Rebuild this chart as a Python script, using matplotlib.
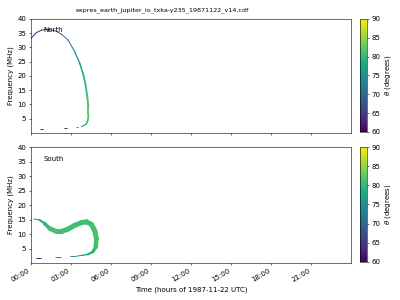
import numpy as np
import matplotlib
matplotlib.use('Agg')
import matplotlib.pyplot as plt
import matplotlib.dates as mdates
from matplotlib.collections import LineCollection
from datetime import datetime

# hours after 1987-11-22 00:00 UTC, frequency (MHz), beaming angle theta (deg)
north_t = [0.0, 0.4, 0.78, 1.27, 1.77, 2.28, 2.78, 3.28, 3.65, 3.9, 4.07, 4.22, 4.3, 4.3, 4.27, 4.15, 3.95, 3.78]
north_f = [33.2, 35.2, 36.1, 36.4, 35.9, 34.7, 32.6, 28.5, 24.5, 20.9, 17.4, 12.7, 9.2, 6.5, 4.6, 3.2, 2.6, 2.2]
north_theta = [61, 61, 62, 63, 65, 67, 70, 73, 76, 78, 80, 81, 82, 82, 81, 79, 77, 75]
north_lw = [1.3, 1.3, 1.3, 1.3, 1.3, 1.3, 1.4, 1.6, 2, 2.4, 2.6, 2.8, 2.8, 2.6, 2.4, 2, 1.6, 1.4]

south_t = [0.22, 0.65, 1.0, 1.4, 1.9, 2.28, 2.78, 3.28, 3.78, 4.15, 4.53, 4.78, 4.9, 4.85, 4.65, 4.27, 3.78, 3.45]
south_f = [15.2, 14.8, 13.7, 11.9, 10.9, 10.9, 11.7, 13.0, 13.9, 14.2, 13.3, 11.1, 8.3, 5.5, 3.9, 3.0, 2.6, 2.4]
south_theta = [76, 76, 79, 81, 81, 81, 81, 81, 81, 81, 81, 81, 81, 81, 80, 78, 76, 75]
south_lw = [1.4, 1.6, 4, 6.4, 7.2, 7.2, 7.2, 7.2, 7.2, 7.2, 7.2, 7.2, 7.2, 5.6, 4, 2.4, 1.6, 1.4]

# short isolated bursts near the bottom: (t start, t end, freq, theta)
north_bits = [(0.7, 0.9, 1.4, 62), (2.5, 2.7, 1.6, 63), (3.4, 3.55, 2.0, 74)]
south_bits = [(0.4, 0.73, 1.6, 61), (1.78, 2.23, 1.9, 72), (2.9, 3.35, 2.3, 74)]

day0 = mdates.date2num(datetime(1987, 11, 22))
cmap = plt.get_cmap('viridis')
norm = plt.Normalize(60, 90)


def draw_branch(ax, t, f, theta, lw, bits):
    x = day0 + np.array(t) / 24.0
    pts = np.column_stack([x, f]).reshape(-1, 1, 2)
    segs = np.concatenate([pts[:-1], pts[1:]], axis=1)
    th = np.array(theta, dtype=float)
    w = np.array(lw, dtype=float)
    lc = LineCollection(segs, cmap=cmap, norm=norm, linewidths=(w[:-1] + w[1:]) / 2,
                        capstyle='round')
    lc.set_array((th[:-1] + th[1:]) / 2)
    ax.add_collection(lc)
    for t0, t1, fb, tb in bits:
        ax.plot([day0 + t0 / 24.0, day0 + t1 / 24.0], [fb, fb], color=cmap(norm(tb)), lw=1.4,
                solid_capstyle='butt')
    return lc


fig = plt.figure(figsize=(8, 6), dpi=50)
ax1 = fig.add_axes([0.0775, 0.5567, 0.8, 0.38])
ax2 = fig.add_axes([0.0775, 0.1233, 0.8, 0.3867])
cax1 = fig.add_axes([0.9, 0.56, 0.0167, 0.3767])
cax2 = fig.add_axes([0.9, 0.1267, 0.0167, 0.3833])

lc1 = draw_branch(ax1, north_t, north_f, north_theta, north_lw, north_bits)
lc2 = draw_branch(ax2, south_t, south_f, south_theta, south_lw, south_bits)

for ax, name in [(ax1, 'North'), (ax2, 'South')]:
    ax.set_xlim(day0, day0 + 1 - 1 / 1440.0)
    ax.set_ylim(0, 40)
    ax.set_yticks([5, 10, 15, 20, 25, 30, 35, 40])
    ax.set_ylabel('Frequency (MHz)')
    ax.xaxis_date()
    ax.xaxis.set_major_locator(mdates.HourLocator(byhour=range(0, 24, 3)))
    ax.xaxis.set_major_formatter(mdates.DateFormatter('%H:%M'))
    ax.text(0.038, 0.9, name, transform=ax.transAxes, va='center')

ax1.tick_params(labelbottom=False)
for lbl in ax2.get_xticklabels():
    lbl.set_rotation(30)
    lbl.set_ha('right')
ax2.set_xlabel('Time (hours of 1987-11-22 UTC)')

for lc, cax in [(lc1, cax1), (lc2, cax2)]:
    cb = fig.colorbar(lc, cax=cax)
    cb.set_ticks([60, 65, 70, 75, 80, 85, 90])
    cb.set_label(r'$\theta$ (degrees)')

fig.text(0.405, 0.965, 'expres_earth_jupiter_io_txka-y235_19871122_v14.cdf',
         ha='center', va='center', fontsize=9.2)

fig.savefig('out.png', dpi=50)
